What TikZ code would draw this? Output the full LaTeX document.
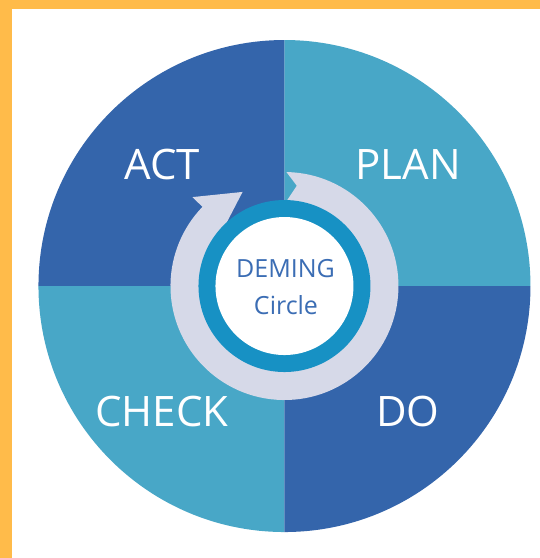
\documentclass[tikz,border=0pt]{standalone}
\usepackage{fontspec}
\setmainfont{Open Sans}
\definecolor{frameorange}{HTML}{FFBB4A}
\definecolor{darkquad}{HTML}{3465AB}
\definecolor{lightquad}{HTML}{48A7C7}
\definecolor{ringgray}{HTML}{D6D9E8}
\definecolor{ringteal}{HTML}{1791C4}
\definecolor{labelblue}{HTML}{3B6DB4}
\tikzset{
    phase/.style={text=white, font=\fontsize{42}{42}\selectfont, anchor=base},
    hub/.style={text=labelblue, font=\fontsize{25}{25}\selectfont, anchor=base}
}
\begin{document}
\begin{tikzpicture}[scale=0.03515]
                \useasboundingbox (0,0) rectangle (540,558);
                \fill[white] (0,0) rectangle (540,558);
                \fill[frameorange] (0,549) rectangle (540,558);
                \fill[frameorange] (0,0) rectangle (12,558);

                \coordinate (C) at (284.5,272);
                \begin{scope}[shift={(C)}]
                \fill[lightquad] (0,0) -- (0:246) arc[start angle=0, end angle=90, radius=246] -- cycle;
                \fill[darkquad] (0,0) -- (90:246) arc[start angle=90, end angle=180, radius=246] -- cycle;
                \fill[lightquad] (0,0) -- (180:246) arc[start angle=180, end angle=270, radius=246] -- cycle;
                \fill[darkquad] (0,0) -- (270:246) arc[start angle=270, end angle=360, radius=246] -- cycle;

                % circular arrow, tail at the top, head in the ACT quarter
                \fill[ringgray] (89:114) arc[start angle=89, end angle=-224, radius=114]
                    -- (136:128) -- (114:103) -- (136:84)
                    arc[start angle=-224, end angle=89, radius=84] -- (83:101) -- cycle;

                \fill[ringteal] (0,0) circle[radius=86];
                \fill[white] (0,0) circle[radius=69];
                \end{scope}

                \node[phase] (act) at (162,378) {ACT};
                \node[phase] (plan) at (408,378) {PLAN};
                \node[phase] (check) at (162,131) {CHECK};
                \node[phase] (do) at (408,131) {DO};
                \node[hub] (deming) at (285.5,280) {DEMING};
                \node[hub] (circle) at (286,243) {Circle};
\end{tikzpicture}
\end{document}
